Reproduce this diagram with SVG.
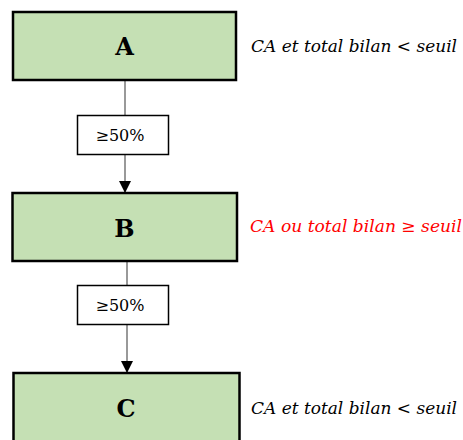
<svg xmlns="http://www.w3.org/2000/svg" width="463" height="440" viewBox="0 0 463 440">
  <defs>
    <style>
      .node { fill: #c5e0b4; stroke: #000; stroke-width: 2.5; }
      .tag { fill: #fff; stroke: #000; stroke-width: 1.5; }
      .letter { font-family: "DejaVu Serif", "Liberation Serif", serif; font-weight: bold; font-size: 24px; text-anchor: middle; fill: #000; }
      .pct { font-family: "DejaVu Serif", "Liberation Serif", serif; font-size: 16px; text-anchor: middle; fill: #000; }
      .note { font-family: "DejaVu Serif", "Liberation Serif", serif; font-style: italic; font-size: 16.5px; fill: #000; }
      .note.red { fill: #ff0000; }
      .wire { stroke: #555; stroke-width: 1.2; fill: none; }
    </style>
    <marker id="arrow" viewBox="0 0 12 12" refX="12" refY="6" markerWidth="12" markerHeight="12" markerUnits="userSpaceOnUse" orient="auto">
      <path d="M0,0 L12,6 L0,12 z" fill="#000"/>
    </marker>
  </defs>

  <!-- connectors between the three levels -->
  <g id="connectors">
    <line class="wire" x1="125" y1="80" x2="125" y2="115"/>
    <line class="wire" x1="125" y1="155" x2="125" y2="193" marker-end="url(#arrow)"/>
    <line class="wire" x1="127" y1="261" x2="127" y2="285"/>
    <line class="wire" x1="127" y1="325" x2="127" y2="373" marker-end="url(#arrow)"/>
    <g id="tag-ab">
      <rect class="tag" x="77.5" y="115.5" width="91" height="39"/>
      <text class="pct" x="120" y="141">≥50%</text>
    </g>
    <g id="tag-bc">
      <rect class="tag" x="77.5" y="285.5" width="91" height="39"/>
      <text class="pct" x="120" y="311">≥50%</text>
    </g>
  </g>

  <g id="node-a">
    <rect class="node" x="13" y="12" width="223" height="68"/>
    <text class="letter" x="124.5" y="55">A</text>
    <text class="note" x="251" y="52" textLength="206" lengthAdjust="spacingAndGlyphs">CA et total bilan &lt; seuil</text>
  </g>

  <g id="node-b">
    <rect class="node" x="12.5" y="193" width="224.5" height="68"/>
    <text class="letter" x="124.5" y="237">B</text>
    <text class="note red" x="250" y="232" textLength="212" lengthAdjust="spacingAndGlyphs">CA ou total bilan ≥ seuil</text>
  </g>

  <g id="node-c">
    <rect class="node" x="13.5" y="373" width="226" height="80"/>
    <text class="letter" x="126" y="417">C</text>
    <text class="note" x="251" y="414" textLength="206" lengthAdjust="spacingAndGlyphs">CA et total bilan &lt; seuil</text>
  </g>
</svg>
